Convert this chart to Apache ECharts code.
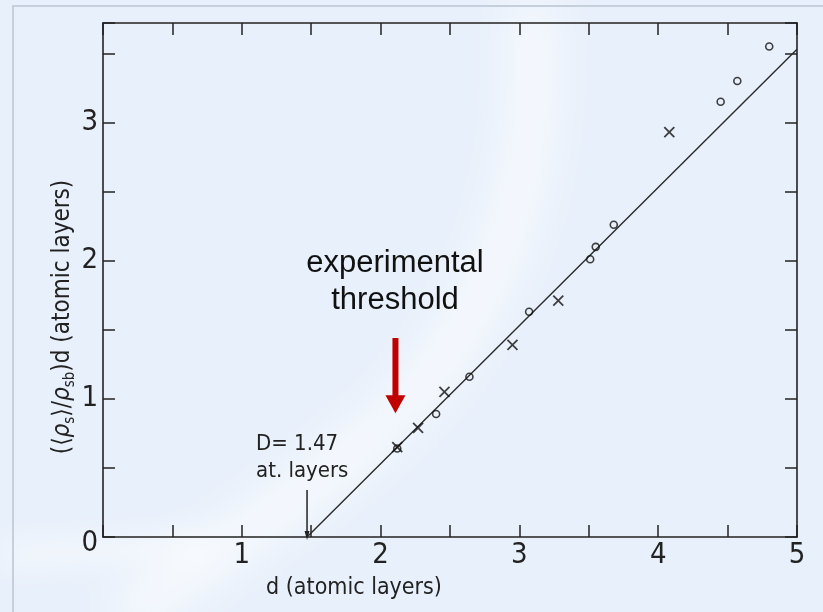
<!DOCTYPE html>
<html>
<head>
<meta charset="utf-8">
<style>
  html, body { margin: 0; padding: 0; background: #e8f0fb; }
  #chart { width: 823px; height: 612px; }
</style>
<script src="https://cdn.jsdelivr.net/npm/echarts@6/dist/echarts.min.js"></script>
</head>
<body>
<div id="chart"></div>
<script>
// Measured points: circles and crosses, [d, (<rho_s>/rho_sb) d]
const circlePoints = [
  [2.12, 0.64], [2.40, 0.89], [2.64, 1.16], [3.07, 1.63],
  [3.51, 2.01], [3.55, 2.10], [3.68, 2.26], [4.45, 3.15],
  [4.57, 3.30], [4.80, 3.55]
];
const crossPoints = [
  [2.12, 0.65], [2.27, 0.79], [2.46, 1.05], [2.95, 1.39],
  [3.28, 1.71], [4.08, 2.93]
];
// Straight-line fit with intercept D = 1.47 and unit slope
const thresholdD = 1.47;
const fitLine = [[1.47, 0], [5, 3.53]];
// Experimental threshold arrow (data coordinates)
const thresholdArrow = [[2.107, 1.44], [2.107, 0.96]];
// D marker arrow
const dArrow = [[1.47, 0.34], [1.47, 0.01]];
// Axis ranges and tick spacing
const xRange = [0, 5];
const yRange = [0, 3.72];
const tickStep = 0.5;

const INK = '#222';
const LABEL_FONT = "'Liberation Sans Narrow', 'DejaVu Sans Condensed', sans-serif";
const NAME_FONT = "'DejaVu Sans Condensed', 'Liberation Sans Narrow', sans-serif";

function intLabel(v) {
  return Math.abs(v - Math.round(v)) < 1e-6 ? String(Math.round(v)) : '';
}

const tickStyle = { inside: true, length: 12, lineStyle: { color: INK, width: 1.5 } };
const lineStyleAxis = { onZero: false, lineStyle: { color: INK, width: 1.6 } };

// soft light streak (drawn off-canvas, only its shadow lands on the page)
function streak(x1, y1, cx1, cy1, cx2, cy2, x2, y2, width, blur, alpha) {
  return {
    type: 'bezierCurve', silent: true, z: -10,
    shape: { x1: x1 - 1000, y1, cpx1: cx1 - 1000, cpy1: cy1, cpx2: cx2 - 1000, cpy2: cy2, x2: x2 - 1000, y2 },
    style: {
      fill: 'none', stroke: '#ffffff', lineWidth: width,
      shadowBlur: blur, shadowColor: 'rgba(255,255,255,' + alpha + ')', shadowOffsetX: 1000
    }
  };
}

const chart = echarts.init(document.getElementById('chart'));

chart.setOption({
  animation: false,
  backgroundColor: 'transparent',
  grid: { left: 103, right: 26, top: 23, bottom: 75, containLabel: false },
  graphic: [
    streak(530, 0, 545, 150, 510, 300, 390, 420, 46, 45, 0.7),
    streak(390, 420, 290, 510, 200, 560, 120, 620, 46, 45, 0.7),
    streak(0, 555, 70, 552, 140, 548, 210, 545, 22, 30, 0.65),
    // outer page border
    {
      type: 'rect', silent: true, z: -5,
      shape: { x: 13, y: 6, width: 830, height: 640 },
      style: { fill: 'none', stroke: '#c6d0dc', lineWidth: 2 }
    },
    {
      type: 'text', x: 395, y: 245, z: 20,
      style: {
        text: 'experimental\nthreshold', fill: '#111',
        font: "31px 'Liberation Sans', Arial, sans-serif",
        align: 'center', verticalAlign: 'top', lineHeight: 37
      }
    },
    {
      type: 'text', x: 256, y: 431, z: 20,
      style: {
        text: 'D= 1.47\nat. layers', fill: INK,
        font: "22px " + NAME_FONT, lineHeight: 27, verticalAlign: 'top'
      }
    }
  ],
  xAxis: [
    {
      type: 'value', position: 'bottom', min: xRange[0], max: xRange[1], interval: tickStep,
      axisLine: lineStyleAxis, axisTick: tickStyle, splitLine: { show: false },
      axisLabel: {
        formatter: v => (v === 0 ? '' : intLabel(v)),
        color: INK, fontFamily: LABEL_FONT, fontSize: 29, margin: 4
      },
      name: 'd (atomic layers)', nameLocation: 'middle', nameGap: 40,
      nameTextStyle: { color: INK, fontFamily: NAME_FONT, fontSize: 23, padding: [0, 192, 0, 0] }
    },
    {
      type: 'value', position: 'top', min: xRange[0], max: xRange[1], interval: tickStep,
      axisLine: lineStyleAxis, axisTick: tickStyle, splitLine: { show: false },
      axisLabel: { show: false }
    }
  ],
  yAxis: [
    {
      type: 'value', position: 'left', min: yRange[0], max: yRange[1], interval: tickStep,
      axisLine: lineStyleAxis, axisTick: tickStyle, splitLine: { show: false },
      axisLabel: {
        formatter: v => (v === 0 ? '{z|0}' : intLabel(v)),
        color: INK, fontFamily: LABEL_FONT, fontSize: 29, margin: 5,
        rich: { z: { color: INK, fontFamily: LABEL_FONT, fontSize: 29, padding: [12, 0, 0, 0] } }
      },
      name: '(⟨{g|ρ}{s|s}⟩/{g|ρ}{s|sb})d (atomic layers)',
      nameLocation: 'middle', nameGap: 25, nameMoveOverlap: false,
      nameTextStyle: {
        color: INK, fontFamily: NAME_FONT, fontSize: 24, lineHeight: 30,
        padding: [0, 74, 0, 0],
        rich: {
          g: { color: INK, fontFamily: NAME_FONT, fontSize: 24, fontStyle: 'italic', lineHeight: 30 },
          s: { color: INK, fontFamily: NAME_FONT, fontSize: 15, verticalAlign: 'bottom', lineHeight: 30, padding: [10, 0, 0, 0] }
        }
      }
    },
    {
      type: 'value', position: 'right', min: yRange[0], max: yRange[1], interval: tickStep,
      axisLine: lineStyleAxis, axisTick: tickStyle, splitLine: { show: false },
      axisLabel: { show: false }
    }
  ],
  series: [
    {
      name: 'fit', type: 'line', data: fitLine, symbol: 'none',
      lineStyle: { color: '#2a2a2a', width: 1.4 }, z: 3
    },
    {
      name: 'circles', type: 'scatter', data: circlePoints, symbol: 'circle', symbolSize: 7,
      itemStyle: { color: 'rgba(0,0,0,0)', borderColor: '#111', borderWidth: 1.6 }, z: 5
    },
    {
      name: 'crosses', type: 'scatter', data: crossPoints,
      symbol: 'path://M0,0L10,10M10,0L0,10', symbolSize: 10,
      itemStyle: { color: 'none', borderColor: '#111', borderWidth: 1.8 }, z: 5
    },
    {
      name: 'D marker', type: 'line', z: 4,
      data: [
        { value: dArrow[0], symbol: 'none' },
        { value: dArrow[1], symbol: 'triangle', symbolSize: [5, 9], symbolRotate: 180 }
      ],
      lineStyle: { color: INK, width: 1.5 },
      itemStyle: { color: INK, borderWidth: 0 }
    },
    {
      name: 'threshold arrow', type: 'line', z: 6,
      data: [
        { value: thresholdArrow[0], symbol: 'none' },
        { value: thresholdArrow[1], symbol: 'triangle', symbolSize: [20, 18], symbolRotate: 180 }
      ],
      lineStyle: { color: '#c00000', width: 6, cap: 'butt' },
      itemStyle: { color: '#c00000', borderWidth: 0 }
    }
  ]
});
</script>
</body>
</html>
